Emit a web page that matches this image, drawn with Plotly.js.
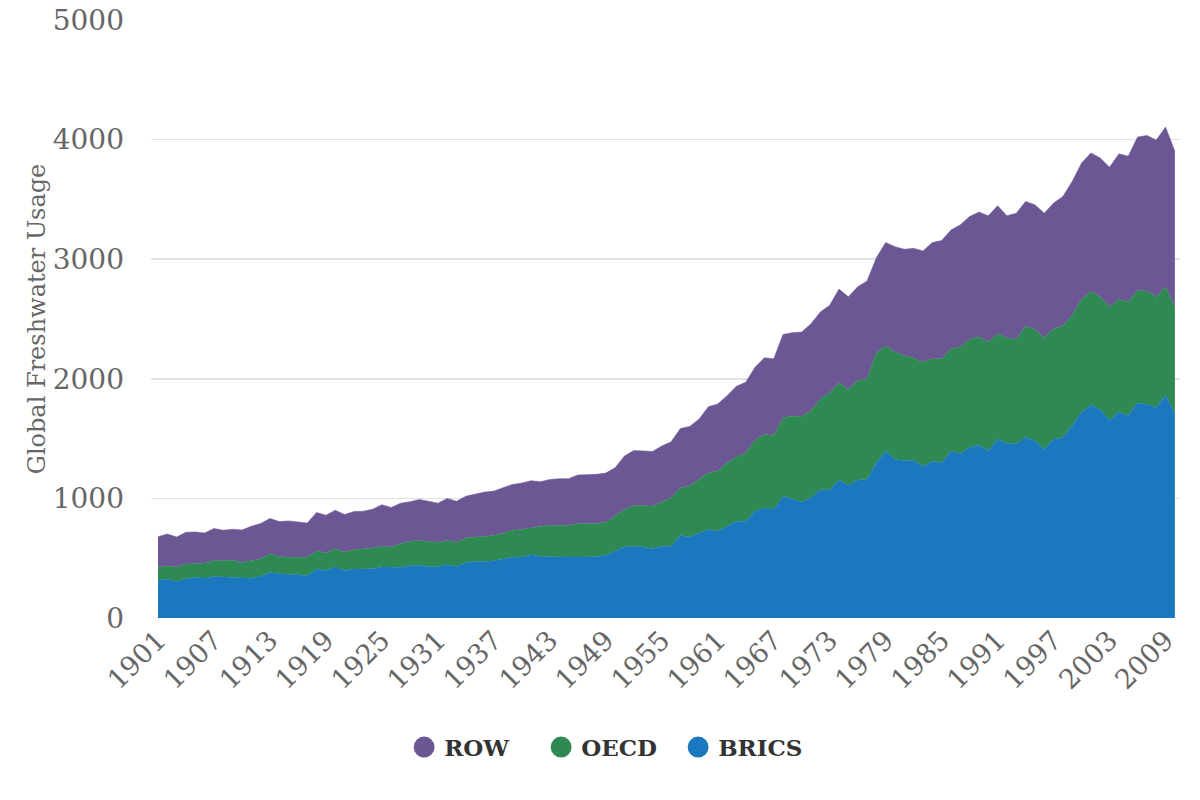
<!DOCTYPE html>
<html>
<head>
<meta charset="utf-8">
<script src="https://cdn.plot.ly/plotly-3.0.1.min.js"></script>
<style>
  html, body { margin: 0; padding: 0; background: #fff; }
  #chart { width: 1200px; height: 800px; }
</style>
</head>
<body>
<div id="chart"></div>
<script>
/***********
  DATA
************/

// Global freshwater usage by group, one value per year from 1901 to 2010
const firstYear = 1901;

const brics = [
  315, 325, 305, 328, 339, 333, 347, 342, 339, 333,
  333, 347, 381, 370, 367, 361, 356, 409, 398, 426,
  398, 409, 409, 412, 426, 423, 425, 437, 440, 431,
  426, 445, 431, 465, 473, 473, 479, 493, 507, 510,
  529, 515, 512, 510, 510, 510, 512, 512, 524, 557,
  594, 599, 594, 580, 599, 599, 689, 678, 706, 739,
  725, 767, 809, 809, 893, 921, 907, 1019, 991, 969,
  1005, 1075, 1069, 1153, 1109, 1153, 1159, 1299, 1396, 1326,
  1317, 1317, 1269, 1311, 1297, 1396, 1374, 1425, 1447, 1396,
  1495, 1459, 1459, 1510, 1481, 1411, 1495, 1510, 1609, 1722,
  1778, 1742, 1651, 1722, 1694, 1798, 1787, 1759, 1863, 1708
];

const oecd = [
  108, 112, 121, 123, 115, 126, 132, 137, 143, 132,
  143, 146, 157, 145, 140, 143, 151, 154, 145, 154,
  154, 162, 168, 173, 173, 171, 195, 204, 209, 210,
  207, 202, 202, 204, 202, 210, 210, 213, 227, 229,
  227, 252, 261, 266, 266, 277, 278, 278, 277, 294,
  313, 339, 347, 355, 370, 406, 400, 425, 453, 476,
  504, 532, 541, 569, 596, 616, 616, 658, 695, 717,
  728, 756, 813, 813, 800, 832, 840, 916, 878, 897,
  878, 856, 870, 856, 870, 855, 891, 905, 902, 911,
  882, 882, 871, 932, 932, 930, 924, 932, 922, 943,
  955, 943, 950, 943, 949, 943, 946, 926, 906, 893
];

const row = [
  257, 266, 252, 266, 266, 252, 269, 255, 260, 271,
  291, 297, 294, 291, 305, 302, 288, 319, 316, 321,
  313, 319, 316, 325, 348, 330, 340, 331, 342, 336,
  327, 353, 344, 350, 364, 370, 372, 383, 383, 389,
  392, 373, 386, 389, 389, 408, 408, 411, 411, 406,
  448, 462, 456, 457, 470, 468, 496, 499, 504, 552,
  560, 560, 588, 593, 608, 639, 644, 694, 700, 705,
  728, 728, 733, 784, 776, 784, 818, 797, 865, 882,
  888, 918, 930, 972, 989, 994, 1022, 1027, 1045, 1056,
  1070, 1022, 1055, 1041, 1042, 1044, 1050, 1083, 1120, 1140,
  1156, 1162, 1168, 1216, 1218, 1280, 1302, 1311, 1336, 1302
];

const years = brics.map((_, i) => firstYear + i);

const seriesNames = ['BRICS', 'OECD', 'ROW'];
const seriesColors = ['#1b78be', '#2e8952', '#6b5794'];
const legendOrder = ['ROW', 'OECD', 'BRICS'];

/***********
  CHART
************/

function buildChart() {
  const values = [brics, oecd, row];

  // Stacked areas, bottom to top
  let traces = seriesNames.map((name, i) => ({
    x: years,
    y: values[i],
    name: name,
    type: 'scatter',
    mode: 'lines',
    stackgroup: 'water',
    line: { color: seriesColors[i], width: 0.5 },
    fillcolor: seriesColors[i],
    showlegend: false,
    hovertemplate: name + ' %{x}: %{y}<extra></extra>'
  }));

  // Legend entries drawn as round markers
  legendOrder.forEach(name => {
    const i = seriesNames.indexOf(name);
    traces.push({
      x: [null],
      y: [null],
      name: name,
      type: 'scatter',
      mode: 'markers',
      marker: {
        color: seriesColors[i],
        size: 16,
        symbol: 'circle',
        line: { color: seriesColors[i], width: 5 }
      },
      showlegend: true
    });
  });

  const tickFont = { family: 'DejaVu Serif', size: 28, color: '#666666' };

  const layout = {
    width: 1200,
    height: 800,
    margin: { l: 151, r: 20, t: 20, b: 182 },
    paper_bgcolor: '#ffffff',
    plot_bgcolor: '#ffffff',
    showlegend: true,
    xaxis: {
      range: [1900.25, 2010.55],
      tickmode: 'linear',
      tick0: firstYear,
      dtick: 6,
      tickangle: -45,
      tickfont: { family: 'DejaVu Serif', size: 27, color: '#666666' },
      showgrid: false,
      zeroline: false,
      showline: false,
      ticks: ''
    },
    yaxis: {
      range: [0, 5000],
      tickvals: [0, 1000, 2000, 3000, 4000, 5000],
      tickfont: tickFont,
      ticklabelstandoff: 26,
      gridcolor: '#e2e2e2',
      gridwidth: 1.5,
      zeroline: false,
      showline: false,
      ticks: '',
      title: {
        text: 'Global Freshwater Usage',
        font: { family: 'DejaVu Serif', size: 24, color: '#666666' },
        standoff: 0
      }
    },
    legend: {
      orientation: 'h',
      x: 0.246,
      xanchor: 'left',
      y: -0.216,
      yanchor: 'middle',
      traceorder: 'normal',
      itemsizing: 'trace',
      entrywidth: 92,
      font: { family: 'DejaVu Serif', size: 23, color: '#333333', weight: 'bold' }
    }
  };

  Plotly.newPlot('chart', traces, layout, { displayModeBar: false, staticPlot: true });
}

buildChart();
</script>
</body>
</html>
